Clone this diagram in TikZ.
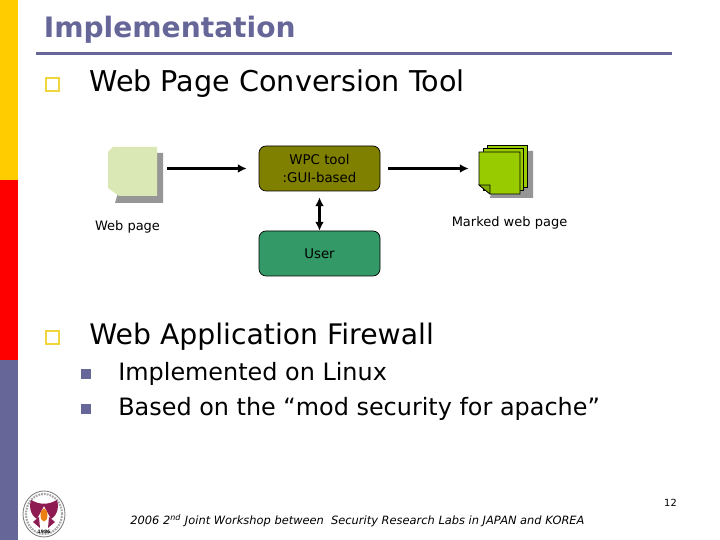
\documentclass[tikz,border=0pt]{standalone}
\usepackage{fontspec}
\setmainfont{DejaVu Sans}
\usepackage{tikz}
\usetikzlibrary{arrows.meta,calc,positioning}
\definecolor{slate}{HTML}{666699}
\definecolor{amber}{HTML}{FFCC00}
\definecolor{olivebox}{HTML}{808000}
\definecolor{userbox}{HTML}{339966}
\definecolor{paleweb}{HTML}{D9E8B5}
\definecolor{markweb}{HTML}{99CC00}
\definecolor{pageshadow}{HTML}{969696}
\definecolor{crest}{HTML}{8E1B52}
\tikzset{
  toolbox/.style={draw=black,rounded corners=4pt,minimum width=2.42cm,inner sep=0pt,align=center,font=\fontsize{7.6}{10.5}\selectfont},
  caption/.style={inner sep=0pt,font=\fontsize{7.4}{9}\selectfont},
  headline/.style={anchor=west,inner sep=0pt,font=\fontsize{16.1}{18}\selectfont},
  subline/.style={anchor=west,inner sep=0pt,font=\fontsize{13.6}{16}\selectfont},
  flow/.style={line width=1.15pt,-{Latex[length=5pt,width=5pt]}},
  pagenode/.style={minimum size=1cm,inner sep=0pt},
  hollowbullet/.style={draw={rgb,255:red,240;green,214;blue,60},line width=1.6pt,fill=white,minimum size=.26cm,inner sep=0pt},
  solidbullet/.style={fill=slate,minimum size=.2cm,inner sep=0pt}
}
\begin{document}
\begin{tikzpicture}
\useasboundingbox (0,0) rectangle (14.4,10.8);

% side band
\fill[amber] (0,7.2) rectangle (.36,10.8);
\fill[red] (0,3.6) rectangle (.36,7.2);
\fill[slate] (0,0) rectangle (.36,3.6);

% title
\node[anchor=west,inner sep=0pt,text=slate,font=\bfseries\fontsize{16}{18}\selectfont] (title) at (.87,10.2) {Implementation};
\draw[slate,line width=1.7pt] (.72,9.72) -- (13.44,9.72);

% first point
\node[hollowbullet] (b1) at (1.05,9.11) {};
\node[headline,font=\fontsize{16.3}{18}\selectfont] (conv) at (1.78,9.13) {Web Page Conversion Tool};

% boxes
\node[toolbox,fill=olivebox,minimum height=.9cm] (wpc) at (6.39,7.43) {WPC tool\\:GUI-based};
\node[toolbox,fill=userbox,minimum height=.9cm] (user) at (6.39,5.73) {User};

% plain page
\node[pagenode] (webpg) at (2.66,7.37) {};
\fill[pageshadow] (2.3,6.74) -- (3.26,6.74) -- (3.26,7.74) -- (2.6,7.74) -- cycle;
\fill[paleweb] (2.26,7.86) -- (3.14,7.86) -- (3.14,6.88) -- (2.38,6.88) -- (2.16,7.04) -- (2.16,7.76) -- cycle;

% stack of marked pages
\node[pagenode] (markpg) at (10.06,7.33) {};
\fill[pageshadow] (9.8,6.84) -- (10.66,6.84) -- (10.66,7.78) -- (10,7.78) -- cycle;
\draw[fill=markweb] (9.74,7.06) rectangle (10.54,7.9);
\draw[fill=markweb] (9.66,7) rectangle (10.46,7.84);
\draw[fill=markweb] (9.58,7.1) -- (9.58,7.76) -- (10.4,7.76) -- (10.4,6.92) -- (9.8,6.92) -- cycle;
\draw[fill=markweb!85!black] (9.58,7.1) -- (9.8,7.1) -- (9.8,6.92) -- cycle;

\draw[flow,shorten <=.18cm,shorten >=.24cm] (webpg.east |- wpc) -- (wpc);
\draw[flow,shorten <=.16cm] (wpc) -- ($(markpg.west |- wpc)+(-.18,0)$);
\draw[line width=1.15pt,{Latex[length=5pt,width=5pt]}-{Latex[length=5pt,width=5pt]},shorten <=.12cm] (wpc) -- (user);

\node[caption] (weblbl) at (2.55,6.26) {Web page};
\node[caption] (marklbl) at (10.19,6.34) {Marked web page};

% second point
\node[hollowbullet] (b2) at (1.05,4.05) {};
\node[headline] (fire) at (1.78,4.07) {Web Application Firewall};
\node[solidbullet] (b3) at (1.72,3.32) {};
\node[subline] (linux) at (2.36,3.33) {Implemented on Linux};
\node[solidbullet] (b4) at (1.72,2.62) {};
\node[subline] (apache) at (2.36,2.63) {Based on the “mod security for apache”};

% footer
\node[inner sep=0pt,font=\fontsize{5.6}{7}\selectfont] (pageno) at (13.41,.75) {12};
\node[anchor=west,inner sep=0pt,font=\itshape\fontsize{6.5}{8}\selectfont] (foot) at (2.6,.39) {2006 2\textsuperscript{nd} Joint Workshop between\ \ Security Research Labs in JAPAN and KOREA};

% crest
\draw[gray,fill=white,line width=.5pt] (.88,.52) ellipse (.42 and .46);
\draw[gray!70,line width=1.2pt,dash pattern=on 1pt off .6pt] (.88,.52) ellipse (.36 and .4);
\fill[crest] (.62,.8) .. controls (.8,.7) and (.96,.7) .. (1.14,.8) .. controls (1.2,.6) and (1.1,.46) .. (1.02,.42) -- (.88,.68) -- (.74,.42) .. controls (.66,.46) and (.56,.6) .. (.62,.8) -- cycle;
\fill[crest] (.66,.36) -- (.78,.46) -- (.8,.24) -- cycle;
\fill[crest] (1.1,.36) -- (.98,.46) -- (.96,.24) -- cycle;
\fill[orange!70!brown] (.88,.5) ellipse (.07 and .13);
\node[inner sep=0pt,font=\bfseries\fontsize{2.6}{3}\selectfont] (crestyear) at (.88,.17) {1986};
\end{tikzpicture}
\end{document}
